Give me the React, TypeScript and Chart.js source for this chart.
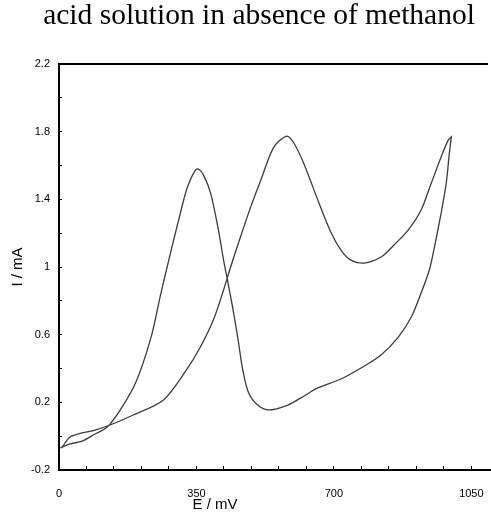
import React, { useEffect, useRef } from "react";
import { Chart, registerables } from "chart.js";

Chart.register(...registerables);

const chartTitle = "acid solution in absence of methanol";
const xAxisTitle = "E / mV";
const yAxisTitle = "I / mA";

const xTickLabels = [0, 350, 700, 1050];
const yTickLabels = [-0.2, 0.2, 0.6, 1, 1.4, 1.8, 2.2];

// forward (anodic) sweep, E in mV, I in mA
const anodicE = [3, 28, 59, 92, 123, 156, 196, 235, 259, 284, 309, 327, 347, 355, 368, 386, 406, 419, 429, 442, 455, 468, 483, 506, 534, 583, 616, 659, 718, 769, 820, 864, 897, 922, 943, 956, 973, 986, 994, 999];
const anodicI = [-0.07, -0.046, -0.029, 0.013, 0.054, 0.155, 0.32, 0.59, 0.84, 1.083, 1.319, 1.473, 1.573, 1.579, 1.543, 1.437, 1.218, 1.041, 0.923, 0.763, 0.586, 0.391, 0.255, 0.184, 0.155, 0.184, 0.226, 0.285, 0.338, 0.403, 0.48, 0.586, 0.704, 0.846, 0.982, 1.118, 1.319, 1.496, 1.673, 1.768];

// reverse (cathodic) sweep
const cathodicE = [999, 991, 973, 948, 922, 889, 853, 820, 777, 743, 718, 692, 659, 623, 598, 580, 547, 514, 488, 462, 437, 419, 393, 360, 324, 266, 189, 130, 92, 59, 28, 8, 3];
const cathodicI = [1.768, 1.75, 1.65, 1.496, 1.337, 1.218, 1.13, 1.059, 1.023, 1.041, 1.1, 1.207, 1.396, 1.614, 1.733, 1.774, 1.709, 1.514, 1.354, 1.177, 1.0, 0.864, 0.686, 0.527, 0.39, 0.214, 0.125, 0.066, 0.036, 0.019, -0.005, -0.064, -0.07];

const tickFont = { family: "'Liberation Sans', Arial, sans-serif", size: 11 };

const isYLabel = (v: number) => yTickLabels.some((t) => Math.abs(t - v) < 1e-6);
const isXLabel = (v: number) => xTickLabels.some((t) => Math.abs(t - v) < 1e-6);

const decorPlugin = {
  id: "decor",
  afterDraw(chart: any) {
    const { ctx, chartArea } = chart;
    ctx.save();
    ctx.strokeStyle = "#000";
    ctx.lineWidth = 2;
    ctx.beginPath();
    ctx.moveTo(chartArea.left - 1, chartArea.top);
    ctx.lineTo(chartArea.right - 3, chartArea.top);
    ctx.stroke();
    ctx.fillStyle = "#000";
    ctx.font = "15px 'Liberation Sans', Arial, sans-serif";
    ctx.textAlign = "center";
    ctx.textBaseline = "middle";
    ctx.fillText(xAxisTitle, 215, 505);
    ctx.translate(18, (chartArea.top + chartArea.bottom) / 2);
    ctx.rotate(-Math.PI / 2);
    ctx.fillText(yAxisTitle, 0, 0);
    ctx.restore();
  },
};

export default function App() {
  const canvasRef = useRef<HTMLCanvasElement | null>(null);

  useEffect(() => {
    if (!canvasRef.current) return;
    const points = [
      ...anodicE.map((e, i) => ({ x: e, y: anodicI[i] })),
      ...cathodicE.map((e, i) => ({ x: e, y: cathodicI[i] })),
    ];
    const chart = new Chart(canvasRef.current, {
      type: "scatter",
      data: {
        datasets: [
          {
            data: points,
            showLine: true,
            borderColor: "#3c3c3c",
            borderWidth: 1.3,
            pointRadius: 0,
            tension: 0.3,
            fill: false,
          },
        ],
      },
      options: {
        responsive: true,
        maintainAspectRatio: false,
        animation: false,
        layout: { padding: { left: 27, right: 0, top: 0, bottom: 0 } },
        plugins: {
          legend: { display: false },
          tooltip: { enabled: false },
          title: {
            display: true,
            text: chartTitle,
            color: "#000",
            font: { family: "'Liberation Serif', 'Times New Roman', serif", size: 29.5, weight: "normal", lineHeight: 1 },
            padding: { top: 1, bottom: 33.5 },
          },
        },
        scales: {
          x: {
            type: "linear",
            min: 0,
            max: 1100,
            afterFit: (s: any) => {
              s.height = 46;
              s.paddingLeft = 0;
              s.paddingRight = 0;
            },
            ticks: {
              stepSize: 70,
              autoSkip: false,
              includeBounds: false,
              maxRotation: 0,
              padding: 21,
              color: "#000",
              font: tickFont,
              callback: (v: any) => (isXLabel(Number(v)) ? String(v) : ""),
            },
            grid: { drawOnChartArea: false, drawTicks: true, tickLength: -4, color: "#000", lineWidth: 1 },
            border: { display: true, color: "#000", width: 2 },
          },
          y: {
            type: "linear",
            min: -0.2,
            max: 2.2,
            afterFit: (s: any) => {
              s.width = 32;
            },
            ticks: {
              stepSize: 0.2,
              autoSkip: false,
              padding: 12,
              color: "#000",
              font: tickFont,
              callback: (v: any) => (isYLabel(Number(v)) ? String(Math.round(Number(v) * 10) / 10) : ""),
            },
            grid: { drawOnChartArea: false, drawTicks: true, tickLength: -3, color: "#000", lineWidth: 1 },
            border: { display: true, color: "#000", width: 2 },
          },
        },
      },
      plugins: [decorPlugin],
    });
    return () => chart.destroy();
  }, []);

  return (
    <div style={{ position: "absolute", left: 0, top: 0, width: 491, height: 516, background: "#fff" }}>
      <canvas ref={canvasRef} />
    </div>
  );
}
